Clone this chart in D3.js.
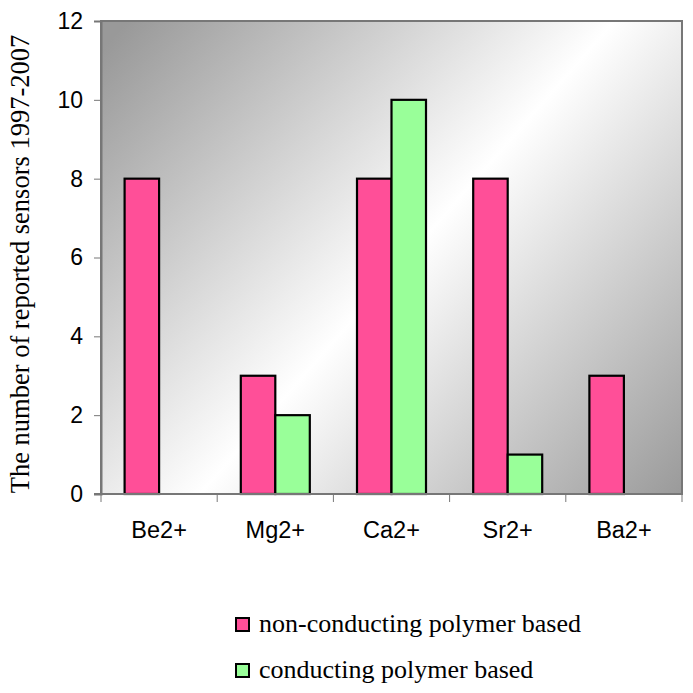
<!DOCTYPE html>
<html><head><meta charset="utf-8">
<script src="https://cdn.jsdelivr.net/npm/d3@7"></script>
<style>body{margin:0;background:#fff;}</style>
</head><body>
<script>
const categories = ["Be2+", "Mg2+", "Ca2+", "Sr2+", "Ba2+"];
const seriesNames = ["non-conducting polymer based", "conducting polymer based"];
const nonConducting = [8, 3, 8, 8, 3];
const conducting = [0, 2, 10, 1, 0];
const yTicks = [0, 2, 4, 6, 8, 10, 12];
const colors = ["#FF4F98", "#99FF99"];

const W = 693, H = 693;
const m = {left: 101, right: 682, top: 21, bottom: 494};
const svg = d3.select("body").append("svg").attr("width", W).attr("height", H);

const defs = svg.append("defs");
const grad = defs.append("linearGradient").attr("id", "bg")
  .attr("gradientUnits", "userSpaceOnUse")
  .attr("x1", m.left).attr("y1", m.top + 30).attr("x2", m.right - 30).attr("y2", m.bottom + 40);
grad.append("stop").attr("offset", "0%").attr("stop-color", "#999999");
grad.append("stop").attr("offset", "50%").attr("stop-color", "#ffffff");
grad.append("stop").attr("offset", "100%").attr("stop-color", "#999999");

const x = d3.scaleBand().domain(categories).range([m.left, m.right]);
const y = d3.scaleLinear().domain([0, 12]).range([m.bottom, m.top]);
const barW = 34.5;
const offset = (x.bandwidth() - 2 * barW) / 2;

svg.append("rect").attr("x", m.left).attr("y", m.top)
  .attr("width", m.right - m.left).attr("height", m.bottom - m.top)
  .attr("fill", "url(#bg)").attr("stroke", "#777").attr("stroke-width", 2);

const data = [nonConducting, conducting];
data.forEach((vals, si) => {
  svg.append("g").selectAll("rect").data(categories.map((c, i) => ({c, v: vals[i]})).filter(d => d.v > 0))
    .join("rect")
    .attr("x", d => x(d.c) + offset + si * barW)
    .attr("y", d => y(d.v))
    .attr("width", barW)
    .attr("height", d => y(0) - y(d.v))
    .attr("fill", colors[si]).attr("stroke", "#000").attr("stroke-width", 2.2);
});

// y axis
const yAxis = svg.append("g").attr("transform", `translate(${m.left},0)`)
  .call(d3.axisLeft(y).tickValues(yTicks).tickSize(7).tickPadding(11));
yAxis.select(".domain").attr("stroke", "#777").attr("stroke-width", 2);
yAxis.selectAll(".tick line").attr("stroke", "#777");
yAxis.selectAll("text").attr("font-family", "Liberation Sans, Arial, sans-serif").attr("font-size", 23).attr("fill", "#000");

// x axis
const xAxis = svg.append("g").attr("transform", `translate(0,${m.bottom})`);
xAxis.append("line").attr("x1", m.left - 7).attr("x2", m.right).attr("y1", 0).attr("y2", 0)
  .attr("stroke", "#777").attr("stroke-width", 2);
const bounds = categories.map(c => x(c)).concat([m.right]);
xAxis.selectAll("line.t").data(bounds).join("line").attr("class", "t")
  .attr("x1", d => d).attr("x2", d => d).attr("y1", 0).attr("y2", 8)
  .attr("stroke", "#777").attr("stroke-width", 1);
xAxis.selectAll("text").data(categories).join("text")
  .attr("x", d => x(d) + x.bandwidth() / 2).attr("y", 44)
  .attr("text-anchor", "middle").attr("font-family", "Liberation Sans, Arial, sans-serif")
  .attr("font-size", 23.5).text(d => d);

// y title
svg.append("text").attr("transform", `translate(29,${264}) rotate(-90)`)
  .attr("text-anchor", "middle").attr("font-family", "Liberation Serif, Times New Roman, serif")
  .attr("font-size", 26.5).text("The number of reported sensors 1997-2007");

// legend
const lg = svg.append("g");
seriesNames.forEach((n, i) => {
  const cy = 625 + i * 46;
  lg.append("rect").attr("x", 236).attr("y", cy - 7).attr("width", 13).attr("height", 13)
    .attr("fill", colors[i]).attr("stroke", "#000").attr("stroke-width", 2);
  lg.append("text").attr("x", 259).attr("y", cy + 7).attr("font-family", "Liberation Serif, Times New Roman, serif")
    .attr("font-size", 26).text(n);
});
</script>
</body></html>
